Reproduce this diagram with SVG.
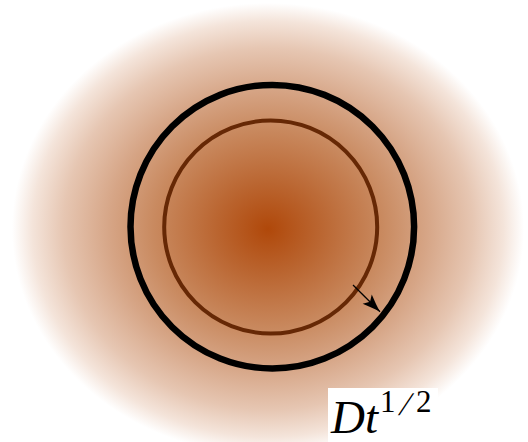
<svg xmlns="http://www.w3.org/2000/svg" width="528" height="442" viewBox="0 0 528 442">
  <style>
    .lbl { font-family: "Liberation Serif", "DejaVu Serif", serif; fill: #000; }
  </style>
  <defs>
    <radialGradient id="glow" gradientUnits="userSpaceOnUse" cx="0" cy="0" r="1" gradientTransform="translate(268 229) scale(256 226)">
      <stop offset="0" stop-color="#b0480a"/>
      <stop offset="0.2" stop-color="#ba6530"/>
      <stop offset="0.45" stop-color="#c98a60"/>
      <stop offset="0.62" stop-color="#d6a586"/>
      <stop offset="0.8" stop-color="#e6c6b2"/>
      <stop offset="0.92" stop-color="#f4e4da"/>
      <stop offset="1" stop-color="#ffffff"/>
    </radialGradient>
    <marker id="head" markerUnits="userSpaceOnUse" markerWidth="24" markerHeight="16" refX="20" refY="8" orient="auto" overflow="visible">
      <path d="M20,8 C15,6.5 8,4 2,1.5 L6,8 L2,14.5 C8,12 15,9.5 20,8 Z" fill="#000"/>
    </marker>
  </defs>
  <rect width="528" height="442" fill="#ffffff"/>
  <rect width="528" height="442" fill="url(#glow)"/>
  <g id="outer">
    <circle cx="272.3" cy="226.7" r="141.8" fill="none" stroke="#000" stroke-width="6.5"/>
  </g>
  <g id="inner">
    <circle cx="270.7" cy="227" r="106.5" fill="none" stroke="#662805" stroke-width="4"/>
  </g>
  <g id="connectors">
    <line x1="353" y1="285" x2="380" y2="311.7" stroke="#000" stroke-width="1.3" marker-end="url(#head)"/>
  </g>
  <g id="label">
    <rect x="328" y="388" width="110" height="54" fill="#ffffff"/>
    <text class="lbl" x="331" y="433" font-size="47" font-style="italic">Dt</text>
    <text class="lbl" x="380" y="412" font-size="31">1</text>
    <text class="lbl" font-size="33" transform="translate(398 415) skewX(-18)">/</text>
    <text class="lbl" x="416" y="412" font-size="31">2</text>
  </g>
</svg>
